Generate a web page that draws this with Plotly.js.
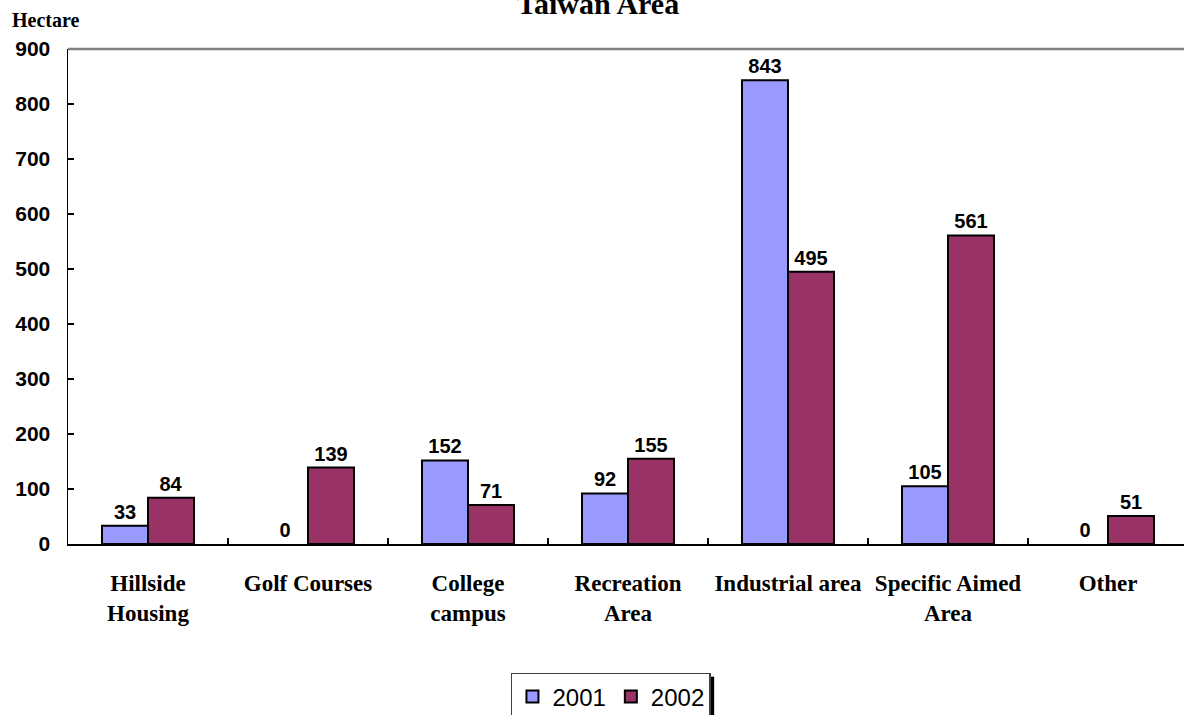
<!DOCTYPE html>
<html>
<head>
<meta charset="utf-8">
<script src="https://cdn.plot.ly/plotly-3.0.1.min.js"></script>
<style>html,body{margin:0;padding:0;background:#fff;}#chart{width:1184px;height:715px;}</style>
</head>
<body>
<div id="chart"></div>
<script>
const categories = ["Hillside<br>Housing", "Golf Courses", "College<br>campus", "Recreation<br>Area", "Industrial area", "Specific Aimed<br>Area", "Other"];
const values2001 = [33, 0, 152, 92, 843, 105, 0];
const values2002 = [84, 139, 71, 155, 495, 561, 51];
const seriesNames = ["2001", "2002"];
const yTicks = [0, 100, 200, 300, 400, 500, 600, 700, 800, 900];
const titleText = "Taiwan Area";
const unitText = "Hectare";

const sans = "Liberation Sans, Arial, sans-serif";
const serif = "Liberation Serif, Times New Roman, serif";

function barTrace(name, vals, color) {
  return {
    type: "bar",
    name: name,
    x: categories,
    y: vals,
    text: vals.map(String),
    textposition: "outside",
    cliponaxis: false,
    textfont: {family: sans, size: 20, color: "#000", weight: "bold"},
    marker: {color: color, line: {color: "#000", width: vals.map(v => v === 0 ? 0 : 2)}},
    hoverinfo: "x+y"
  };
}

const data = [
  barTrace(seriesNames[0], values2001, "#9999FF"),
  barTrace(seriesNames[1], values2002, "#993366")
];

const layout = {
  width: 1184, height: 715,
  paper_bgcolor: "#fff", plot_bgcolor: "#fff",
  margin: {l: 68, r: 0, t: 49, b: 171, pad: 0},
  barmode: "group", bargap: 0.425, bargroupgap: 0,
  showlegend: true,
  title: {
    text: titleText,
    font: {family: serif, size: 30, color: "#000", weight: "bold"},
    x: 0.505, xanchor: "center", xref: "container",
    y: 0.995, yanchor: "middle", yref: "container"
  },
  xaxis: {
    type: "category",
    range: [-0.5, 6.475],
    showline: true, linecolor: "#000", linewidth: 1.5,
    ticks: "inside", tickson: "boundaries", ticklen: 6, tickcolor: "#000", tickwidth: 1.5,
    showgrid: false, zeroline: false,
    tickfont: {family: serif, size: 23, color: "#000", weight: "bold"},
    ticklabelstandoff: 18,
    fixedrange: true
  },
  yaxis: {
    range: [0, 900],
    tickvals: yTicks,
    ticktext: yTicks.map(String),
    showline: true, linecolor: "#000", linewidth: 1.5,
    ticks: "inside", ticklen: 6, tickcolor: "#000", tickwidth: 1.5,
    showgrid: false, zeroline: false,
    tickfont: {family: sans, size: 21, color: "#000", weight: "bold"},
    ticklabelstandoff: 12,
    fixedrange: true
  },
  legend: {
    orientation: "h",
    xref: "container", yref: "container",
    x: 0.516, xanchor: "center",
    y: 0.059, yanchor: "top",
    bordercolor: "#404040", borderwidth: 1.5,
    bgcolor: "#fff",
    font: {family: sans, size: 24, color: "#000"},
    itemwidth: 30
  },
  shapes: [
    {type: "line", xref: "paper", yref: "paper", x0: 0, x1: 1, y0: 1, y1: 1,
     line: {color: "#808080", width: 2.5}},
    {type: "rect", xref: "paper", yref: "paper", x0: 0.5755, x1: 0.579, y0: -0.268, y1: -0.36,
     fillcolor: "#000", line: {width: 0}}
  ],
  annotations: [
    {text: unitText, xref: "paper", yref: "paper", x: -0.052, y: 1.033,
     xanchor: "left", yanchor: "bottom", showarrow: false,
     font: {family: serif, size: 20, color: "#000", weight: "bold"}}
  ]
};

Plotly.newPlot("chart", data, layout, {displayModeBar: false, staticPlot: true});
</script>
</body>
</html>
